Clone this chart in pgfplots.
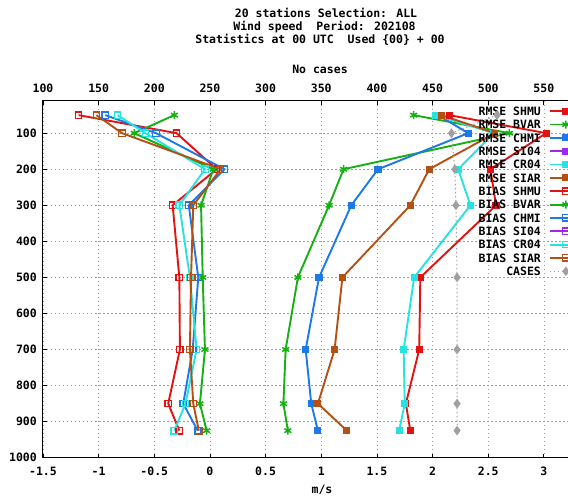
\documentclass[border=0pt]{standalone}
\usepackage{fontspec}
\setmainfont{DejaVu Sans Mono}
\usepackage{pgfplots}
\pgfplotsset{compat=1.18}
\definecolor{cRed}{RGB}{226,18,18}
\definecolor{cGreen}{RGB}{20,176,20}
\definecolor{cBlue}{RGB}{30,120,230}
\definecolor{cCyan}{RGB}{40,226,226}
\definecolor{cBrown}{RGB}{180,80,20}
\definecolor{cPurple}{RGB}{160,40,230}
\definecolor{cGray}{RGB}{160,160,160}
\newcommand\myfont{\bfseries\fontsize{11.5}{13}\selectfont}
\pgfplotsset{
  rmse/.style={line width=1.9pt, mark=square*, mark size=2.6pt, mark options={solid}},
  bias/.style={line width=1.9pt, mark=square, mark size=3.2pt, mark options={solid, line width=1.3pt}},
  bvar/.style={line width=1.9pt, mark=asterisk, mark size=4pt, mark options={solid, line width=1.5pt}},
}
\begin{document}
\begin{tikzpicture}[font=\myfont]
\begin{axis}[
  at={(0pt,0pt)}, anchor=south west,
  scale only axis, width=528.7pt, height=357pt,
  xmin=-1.5, xmax=3.25, ymin=10, ymax=1000, y dir=reverse,
  xtick={-1.5,-1,-0.5,0,0.5,1,1.5,2,2.5,3},
  xticklabels={-1.5,-1,-0.5,0,0.5,1,1.5,2,2.5,3},
  ytick={100,200,300,400,500,600,700,800,900,1000},
  yticklabels={100,200,300,400,500,600,700,800,900,1000},
  xtick pos=bottom, ytick pos=left,
  tick align=inside, major tick length=4pt,
  tick style={black, line width=0.8pt},
  axis line style={black, line width=1pt},
  grid=major,
  major grid style={draw=cGray, line width=0.7pt, dash pattern=on 1.5pt off 2.5pt},
  xticklabel style={font=\myfont, anchor=base, inner sep=0pt, yshift=-17.3pt},
  yticklabel style={font=\myfont, anchor=base east, inner sep=0pt, xshift=-6pt, yshift=-4.2pt},
  legend plot pos=right,
  legend cell align=right,
  legend image code/.code={\draw[mark repeat=2,mark phase=2,#1] plot coordinates {(0pt,0pt) (16pt,0pt) (32pt,0pt)};},
  legend style={font=\myfont, draw=none, fill=none, at={(1.0214,0.9899)}, anchor=north east,
    inner sep=0pt, /tikz/column sep=8pt, /tikz/row sep=0pt,
    nodes={inner sep=0pt, text height=10.87pt, text depth=2.47pt}},
]
% RMSE
\addplot[cRed, rmse] coordinates {(2.15,50)(3.02,100)(2.52,200)(2.57,300)(1.89,500)(1.88,700)(1.76,850)(1.80,925)};
\addlegendentry{RMSE SHMU}
\addplot[cGreen, bvar] coordinates {(1.83,50)(2.69,100)(1.20,200)(1.07,300)(0.79,500)(0.68,700)(0.66,850)(0.70,925)};
\addlegendentry{RMSE BVAR}
\addplot[cBlue, rmse] coordinates {(2.05,50)(2.32,100)(1.51,200)(1.27,300)(0.98,500)(0.86,700)(0.91,850)(0.97,925)};
\addlegendentry{RMSE CHMI}
\addlegendimage{cPurple, rmse}
\addlegendentry{RMSE SI04}
\addplot[cCyan, rmse] coordinates {(2.03,50)(2.55,100)(2.23,200)(2.34,300)(1.835,500)(1.74,700)(1.75,850)(1.70,925)};
\addlegendentry{RMSE CR04}
\addplot[cBrown, rmse] coordinates {(2.08,50)(2.56,100)(1.97,200)(1.80,300)(1.19,500)(1.12,700)(0.97,850)(1.23,925)};
\addlegendentry{RMSE SIAR}
% BIAS
\addplot[cRed, bias] coordinates {(-1.18,50)(-0.30,100)(0.06,200)(-0.335,300)(-0.275,500)(-0.27,700)(-0.375,850)(-0.275,925)};
\addlegendentry{BIAS SHMU}
\addplot[cGreen, bvar] coordinates {(-0.32,50)(-0.68,100)(0.03,200)(-0.08,300)(-0.065,500)(-0.045,700)(-0.09,850)(-0.03,925)};
\addlegendentry{BIAS BVAR}
\addplot[cBlue, bias] coordinates {(-0.94,50)(-0.485,100)(0.13,200)(-0.19,300)(-0.105,500)(-0.155,700)(-0.24,850)(-0.11,925)};
\addlegendentry{BIAS CHMI}
\addlegendimage{cPurple, bias}
\addlegendentry{BIAS SI04}
\addplot[cCyan, bias] coordinates {(-0.83,50)(-0.58,100)(-0.045,200)(-0.275,300)(-0.18,500)(-0.12,700)(-0.22,850)(-0.32,925)};
\addlegendentry{BIAS CR04}
\addplot[cBrown, bias] coordinates {(-1.02,50)(-0.79,100)(0.096,200)(-0.15,300)(-0.17,500)(-0.18,700)(-0.15,850)(-0.10,925)};
\addlegendentry{BIAS SIAR}
\addlegendimage{cGray, line width=1pt, dash pattern=on 1.5pt off 2.5pt, mark=diamond*, mark size=4pt, mark options={solid}}
\addlegendentry{CASES}
\end{axis}
\begin{axis}[
  at={(0pt,0pt)}, anchor=south west,
  scale only axis, width=528.7pt, height=357pt,
  xmin=100, xmax=575, ymin=10, ymax=1000, y dir=reverse,
  axis x line*=top, axis y line=none,
  xtick={100,150,200,250,300,350,400,450,500,550},
  xticklabels={100,150,200,250,300,350,400,450,500,550},
  tick align=inside, major tick length=4pt,
  tick style={black, line width=0.8pt},
  axis line style={black, line width=1pt},
  xticklabel style={font=\myfont, anchor=base, inner sep=0pt, yshift=8.2pt},
]
\addplot[cGray, line width=1pt, dash pattern=on 1.5pt off 2.5pt, mark=diamond*, mark size=4pt, mark options={solid}]
  coordinates {(508,50)(467,100)(470,200)(471,300)(472,500)(472,700)(472,850)(472,925)};
\end{axis}
\node[anchor=base] at (283pt,440.5pt) {20 stations Selection: ALL};
\node[anchor=base] at (281.5pt,427.5pt) {Wind speed\ \ Period: 202108};
\node[anchor=base] at (277pt,414.5pt) {Statistics at 00 UTC\ \ Used \{00\} + 00};
\node[anchor=base] at (277pt,384.5pt) {No cases};
\node[anchor=base] at (279pt,-35.5pt) {m/s};
\pgfresetboundingbox
\path[use as bounding box] (-43pt,-40.3pt) rectangle (525pt,457.7pt);
\end{tikzpicture}
\end{document}
